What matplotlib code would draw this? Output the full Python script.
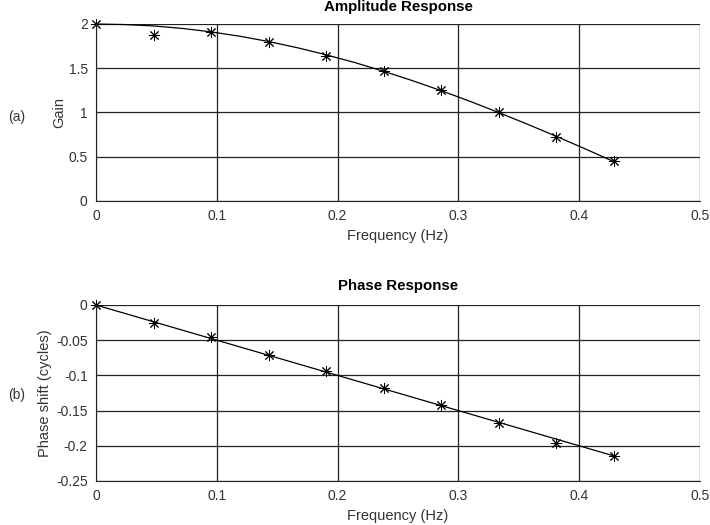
import matplotlib
matplotlib.use("Agg")
import matplotlib.pyplot as plt

# sample points (k/21 Hz) with measured values
freq_pts = [0.0, 0.0476, 0.0952, 0.1429, 0.1905, 0.2381, 0.2857, 0.3333, 0.3810, 0.4286]
gain_pts = [2.0, 1.876, 1.905, 1.80, 1.64, 1.466, 1.25, 1.005, 0.725, 0.452]
phase_pts = [0.0, -0.026, -0.046, -0.071, -0.094, -0.118, -0.142, -0.167, -0.196, -0.214]

# continuous response curves
freq_line = [0.0, 0.0238, 0.0476, 0.0714, 0.0952, 0.1190, 0.1429, 0.1667, 0.1905,
             0.2143, 0.2381, 0.2619, 0.2857, 0.3095, 0.3333, 0.3571, 0.3810, 0.4048, 0.4286]
gain_line = [2.000, 1.994, 1.978, 1.950, 1.911, 1.862, 1.802, 1.732, 1.652,
             1.564, 1.466, 1.360, 1.247, 1.127, 1.000, 0.868, 0.731, 0.590, 0.445]
phase_line_f = [0.0, 0.4286]
phase_line = [0.0, -0.2143]

plt.rcParams['font.family'] = ['Liberation Sans', 'DejaVu Sans']
plt.rcParams['font.size'] = 10

fig = plt.figure(figsize=(7.1, 5.25), dpi=100)
W, H = 710.0, 525.0
ax1 = fig.add_axes([96 / W, 1 - 201 / H, 604 / W, 177 / H])
ax2 = fig.add_axes([96 / W, 1 - 481 / H, 604 / W, 176 / H])

asterisk = (8, 2, 0)

def style(ax):
    ax.grid(True, color='#222222', linewidth=0.9)
    ax.set_axisbelow(True)
    for s in ['top', 'right']:
        ax.spines[s].set_visible(False)
    for s in ['left', 'bottom']:
        ax.spines[s].set_color('#222222')
    ax.tick_params(length=0, pad=6, labelsize=10, colors='#333333')
    ax.set_xlim(0, 0.5)
    ax.set_xticks([0, 0.1, 0.2, 0.3, 0.4, 0.5])
    ax.set_xticklabels(['0', '0.1', '0.2', '0.3', '0.4', '0.5'])

ax1.plot(freq_line, gain_line, color='black', linewidth=0.9, clip_on=False)
ax1.plot(freq_pts, gain_pts, linestyle='none', marker=asterisk, markersize=8,
         markeredgewidth=0.7, color='black', clip_on=False)
style(ax1)
ax1.set_ylim(0, 2)
ax1.set_yticks([0, 0.5, 1, 1.5, 2])
ax1.set_yticklabels(['0', '0.5', '1', '1.5', '2'])
ax1.set_xlabel('Frequency (Hz)', fontsize=10.5, color='#333333', labelpad=4)
ax1.set_ylabel('Gain', fontsize=10.5, color='#333333')
ax1.yaxis.set_label_coords(-0.0497, 0.5)

ax2.plot(phase_line_f, phase_line, color='black', linewidth=0.9, clip_on=False)
ax2.plot(freq_pts, phase_pts, linestyle='none', marker=asterisk, markersize=8,
         markeredgewidth=0.7, color='black', clip_on=False)
style(ax2)
ax2.set_ylim(-0.25, 0)
ax2.set_yticks([-0.25, -0.2, -0.15, -0.1, -0.05, 0])
ax2.set_yticklabels(['-0.25', '-0.2', '-0.15', '-0.1', '-0.05', '0'])
ax2.set_xlabel('Frequency (Hz)', fontsize=10.5, color='#333333', labelpad=4)
ax2.set_ylabel('Phase shift (cycles)', fontsize=10.5, color='#333333')
ax2.yaxis.set_label_coords(-0.0728, 0.5)

# titles placed by hand so the unclipped markers do not push them up
fig.text(398 / W, 1 - 7 / H, 'Amplitude Response', fontweight='bold', fontsize=10.8,
         ha='center', va='center')
fig.text(398 / W, 1 - 286 / H, 'Phase Response', fontweight='bold', fontsize=10.8,
         ha='center', va='center')

fig.text(8 / W, 1 - 117 / H, '(a)', fontsize=10, va='center', color='#333333')
fig.text(8 / W, 1 - 395 / H, '(b)', fontsize=10, va='center', color='#333333')

fig.savefig('out.png', dpi=100)
